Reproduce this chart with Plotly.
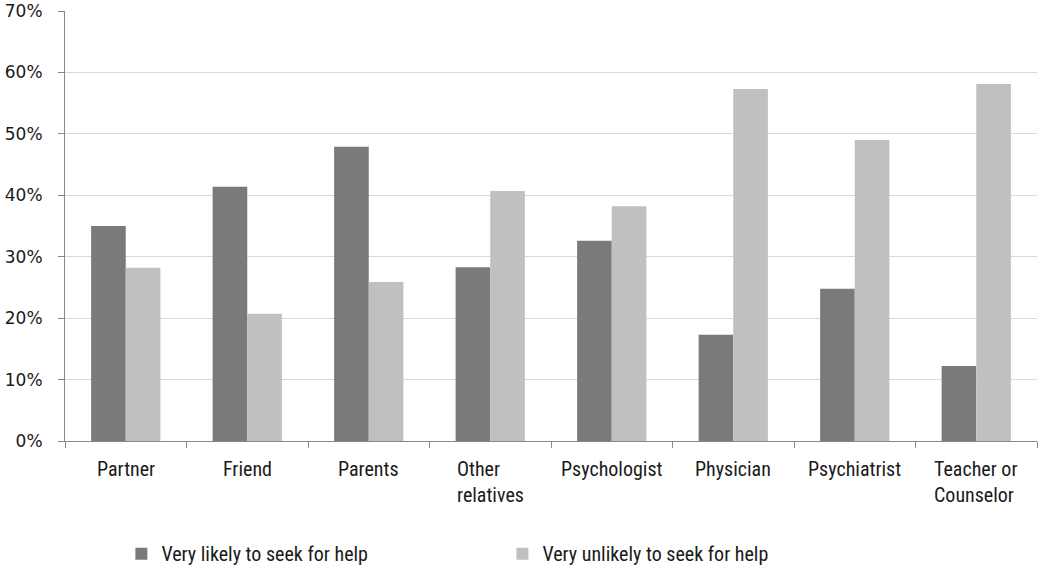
import plotly.graph_objects as go

categories = ["Partner", "Friend", "Parents", "Other<br>relatives", "Psychologist",
              "Physician", "Psychiatrist", "Teacher or<br>Counselor"]
likely = [35.0, 41.4, 47.9, 28.3, 32.6, 17.3, 24.8, 12.2]
unlikely = [28.2, 20.7, 25.9, 40.7, 38.2, 57.3, 49.0, 58.1]
series_names = ["Very likely to seek for help", "Very unlikely to seek for help"]
y_ticks = [0, 10, 20, 30, 40, 50, 60, 70]

lab_font = "Liberation Sans Narrow, Arial Narrow, Roboto Condensed, Roboto, sans-serif"

fig = go.Figure()
fig.add_trace(go.Bar(x=list(range(len(categories))), y=likely, name=series_names[0],
                     marker=dict(color="#7a7a7a", line=dict(width=0))))
fig.add_trace(go.Bar(x=list(range(len(categories))), y=unlikely, name=series_names[1],
                     marker=dict(color="#c0c0c0", line=dict(width=0))))

for i, c in enumerate(categories):
    fig.add_annotation(x=i, y=0, xref="x", yref="paper", text=c, showarrow=False,
                       xanchor="center", yanchor="top", align="left", yshift=-14,
                       font=dict(family=lab_font, size=20, color="#1a1a1a"))

fig.update_layout(
    width=1041, height=570,
    margin=dict(l=65, r=4, t=11, b=129, autoexpand=False),
    paper_bgcolor="white", plot_bgcolor="white",
    barmode="group", bargap=0.43, bargroupgap=0,
    showlegend=True,
    legend=dict(orientation="h", x=0.058, xanchor="left", y=-0.262, yanchor="middle",
                entrywidth=336, entrywidthmode="pixels",
                font=dict(family=lab_font, size=20, color="#1a1a1a"),
                itemsizing="constant"),
    xaxis=dict(range=[-0.5, len(categories) - 0.5], tickvals=[i - 0.5 for i in range(len(categories) + 1)],
               showticklabels=False, ticks="outside", ticklen=6, tickcolor="#888",
               showline=True, linecolor="#888", linewidth=1, showgrid=False, zeroline=False),
    yaxis=dict(range=[0, 70], tickvals=y_ticks, ticktext=[f"{v}%" for v in y_ticks],
               ticks="outside", ticklen=6, tickcolor="#888", ticklabelstandoff=12,
               showline=True, linecolor="#888", linewidth=1,
               showgrid=True, gridcolor="#d9d9d9", gridwidth=1, zeroline=False,
               tickfont=dict(family="DejaVu Sans, Verdana, sans-serif", size=17, color="#1a1a1a")),
)

fig.write_html("out.html", config={"displayModeBar": False},
               post_script="document.body.style.margin='0px';document.body.style.padding='0px';")
